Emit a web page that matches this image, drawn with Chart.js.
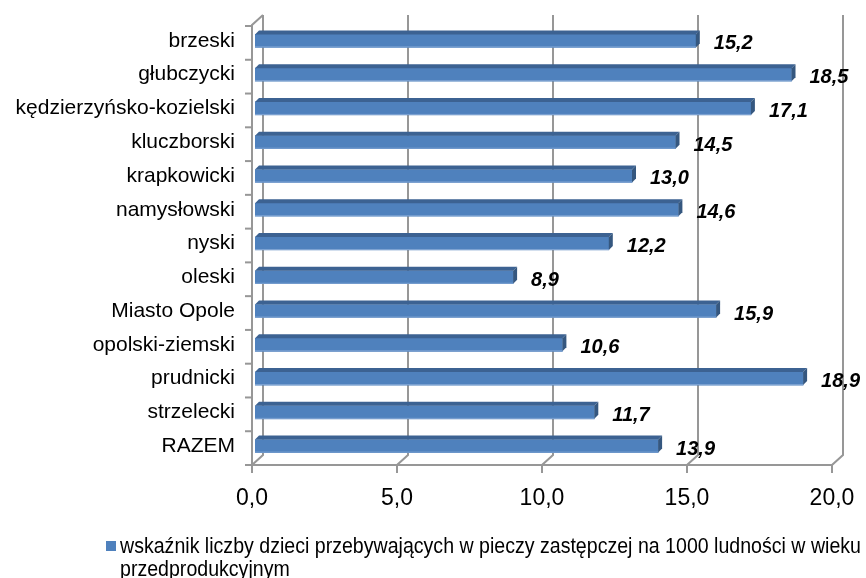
<!DOCTYPE html>
<html>
<head>
<meta charset="utf-8">
<script src="https://cdn.jsdelivr.net/npm/chart.js@4.4.0/dist/chart.umd.min.js"></script>
<style>
  html, body { margin: 0; padding: 0; background: #fff; }
  #wrap { width: 866px; height: 578px; }
</style>
</head>
<body>
<div id="wrap"><canvas id="chart" width="866" height="578"></canvas></div>
<script>
const powiaty = [
  "brzeski",
  "głubczycki",
  "kędzierzyńsko-kozielski",
  "kluczborski",
  "krapkowicki",
  "namysłowski",
  "nyski",
  "oleski",
  "Miasto Opole",
  "opolski-ziemski",
  "prudnicki",
  "strzelecki",
  "RAZEM",
];
const wskaznik = [15.2, 18.5, 17.1, 14.5, 13.0, 14.6, 12.2, 8.9, 15.9, 10.6, 18.9, 11.7, 13.9];
const xTicks = [0, 5, 10, 15, 20];
const legendLines = [
  "wskaźnik liczby dzieci przebywających w pieczy zastępczej na 1000 ludności w wieku",
  "przedprodukcyjnym",
];

const fmt = (v) => v.toFixed(1).replace(".", ",");
const GRID = "#979797";

// back walls + floor lines, drawn before the bars
const walls = {
  id: "walls",
  beforeDatasetsDraw(chart) {
    const { ctx, chartArea: a, scales } = chart;
    const xs = scales.x;
    const front = (v) => xs.getPixelForValue(v) - 3;
    const back = (v) => xs.getPixelForValue(v) + 8;
    const fy = a.bottom + 2, by = a.bottom - 8;
    ctx.save();
    ctx.strokeStyle = GRID;
    ctx.lineWidth = 2;
    xTicks.forEach((v) => {
      ctx.beginPath();
      ctx.moveTo(back(v), a.top - 9);
      ctx.lineTo(back(v), by);
      ctx.lineTo(front(v), fy);
      ctx.lineTo(front(v), fy + 8);
      ctx.stroke();
    });
    // left wall and floor edge
    ctx.beginPath();
    ctx.moveTo(back(0), a.top - 9);
    ctx.lineTo(front(0), a.top + 1);
    ctx.lineTo(front(0), fy);
    ctx.lineTo(front(20), fy);
    ctx.stroke();
    const step = (a.bottom - a.top) / powiaty.length;
    for (let i = 0; i <= powiaty.length; i++) {
      const y = a.top + i * step + 2;
      ctx.beginPath();
      ctx.moveTo(front(0) - 7, y);
      ctx.lineTo(front(0), y);
      ctx.stroke();
    }
    ctx.restore();
  },
};

// top and end faces of the bars + value labels
const bars3d = {
  id: "bars3d",
  afterDatasetsDraw(chart) {
    const { ctx } = chart;
    const meta = chart.getDatasetMeta(0);
    const d = 4, e = 4;
    ctx.save();
    meta.data.forEach((bar, i) => {
      const top = bar.y - bar.height / 2;
      const bot = bar.y + bar.height / 2;
      ctx.fillStyle = "#3c6292";
      ctx.beginPath();
      ctx.moveTo(bar.base, top);
      ctx.lineTo(bar.x, top);
      ctx.lineTo(bar.x + d, top - e);
      ctx.lineTo(bar.base + d, top - e);
      ctx.closePath();
      ctx.fill();
      ctx.fillStyle = "#35577f";
      ctx.beginPath();
      ctx.moveTo(bar.x, top);
      ctx.lineTo(bar.x + d, top - e);
      ctx.lineTo(bar.x + d, bot - e);
      ctx.lineTo(bar.x, bot);
      ctx.closePath();
      ctx.fill();
      ctx.fillStyle = "#7ea3d2";
      ctx.fillRect(bar.base, bot - 1, bar.x - bar.base, 1);

      ctx.fillStyle = "#000";
      ctx.font = "italic bold 20px 'Liberation Sans', Arial, sans-serif";
      ctx.textBaseline = "middle";
      ctx.fillText(fmt(wskaznik[i]), bar.x + 18, bar.y + 3);
    });
    ctx.restore();
  },
};

// legend drawn by hand so it can wrap like the original; narrow face imitated with a horizontal squeeze
const legendBox = {
  id: "legendBox",
  afterDraw(chart) {
    const { ctx } = chart;
    ctx.save();
    ctx.fillStyle = "#4f81bd";
    ctx.fillRect(106, 541, 10, 10);
    ctx.fillStyle = "#000";
    ctx.font = "22px 'Liberation Sans', Arial, sans-serif";
    ctx.textBaseline = "middle";
    const w = ctx.measureText(legendLines[0]).width;
    const sx = 741 / w;
    ctx.translate(120, 0);
    ctx.scale(sx, 1);
    ctx.fillText(legendLines[0], 0, 547);
    ctx.fillText(legendLines[1], 0, 570);
    ctx.restore();
  },
};

new Chart(document.getElementById("chart"), {
  type: "bar",
  data: {
    labels: powiaty,
    datasets: [
      {
        label: legendLines.join(" "),
        data: wskaznik,
        backgroundColor: "#4f81bd",
        borderWidth: 0,
        barThickness: 13,
      },
    ],
  },
  options: {
    indexAxis: "y",
    responsive: false,
    animation: false,
    layout: { padding: { left: 0, right: 31, top: 24, bottom: 65 } },
    plugins: {
      legend: { display: false },
      tooltip: { enabled: false },
    },
    scales: {
      x: {
        min: 0,
        max: 20,
        grid: { display: false, drawTicks: false },
        border: { display: false },
        ticks: {
          stepSize: 5,
          padding: 22,
          labelOffset: -3,
          color: "#000",
          font: { family: "'Liberation Sans', Arial, sans-serif", size: 23 },
          callback: (v) => fmt(v),
        },
        afterFit: (s) => {
          s.height = 50;
          s.paddingLeft = 0;
          s.paddingRight = 0;
        },
      },
      y: {
        grid: { display: false, drawTicks: false },
        border: { display: false },
        ticks: {
          padding: 20,
          color: "#000",
          font: { family: "'Liberation Sans', Arial, sans-serif", size: 21 },
        },
        afterFit: (s) => {
          s.width = 255;
          s.paddingTop = 0;
          s.paddingBottom = 0;
        },
      },
    },
  },
  plugins: [walls, bars3d, legendBox],
});
</script>
</body>
</html>
